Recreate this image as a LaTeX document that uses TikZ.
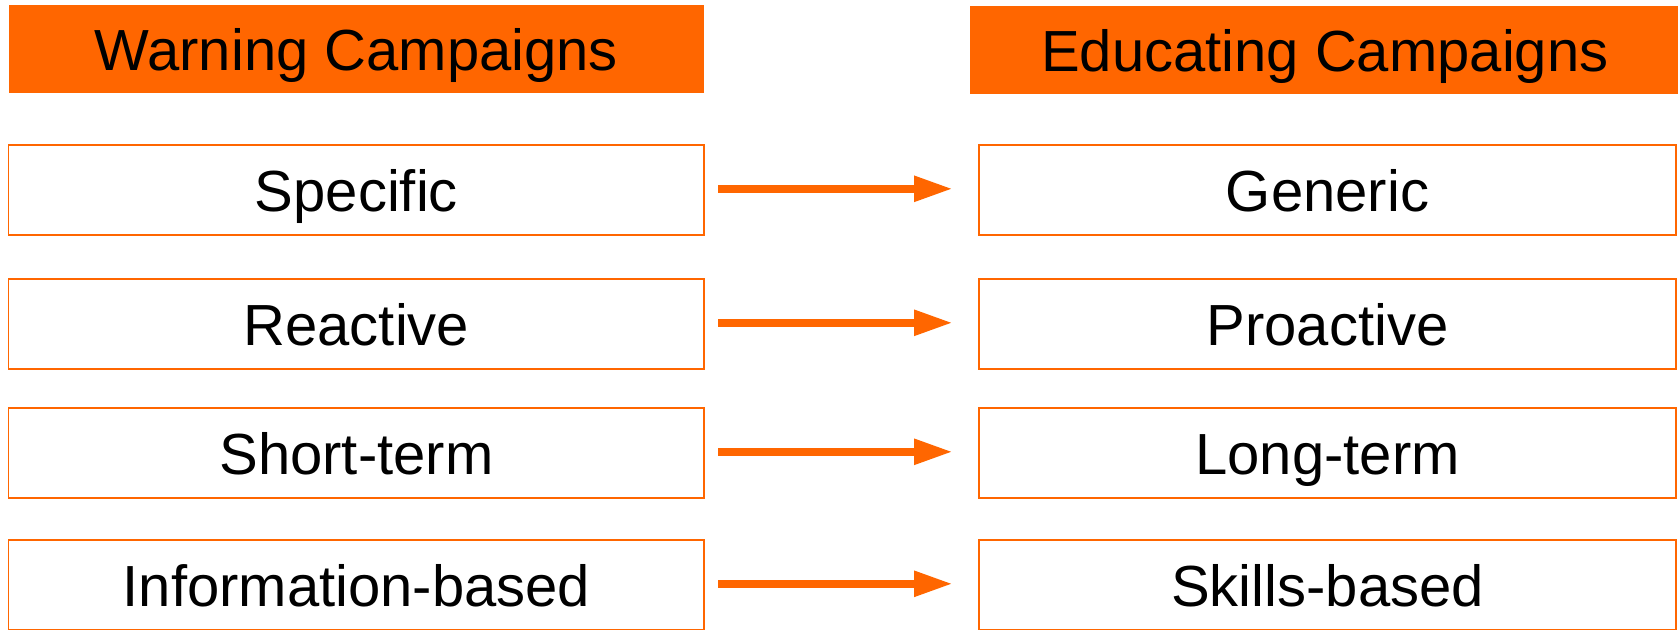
\documentclass[tikz,border=0pt]{standalone}
\usepackage{fontspec}
\setmainfont{Liberation Sans}
\usetikzlibrary{arrows.meta}
\definecolor{campaignorange}{HTML}{FF6600}
\begin{document}
\begin{tikzpicture}[x=1pt,y=-1pt,
  every node/.style={font=\fontsize{58}{60}\selectfont, text=black,
    inner sep=0pt, outer sep=0pt, text height=42pt, text depth=0pt},
  header/.style={fill=campaignorange},
  itembox/.style={draw=campaignorange, line width=1.6pt, fill=white},
  shiftarrow/.style={draw=campaignorange, line width=8.3pt,
    -{Triangle[length=39pt,width=24pt]}}]
  \useasboundingbox (0,0) rectangle (1678,629);

  % column headers
  \node[header, minimum width=695.6pt, minimum height=87.6pt] (wh) at (356.4,49.2) {Warning Campaigns};
  \node[header, minimum width=710pt, minimum height=87.6pt] (eh) at (1324.8,50.2) {Educating Campaigns};

  % left column: warning campaigns
  \node[itembox, minimum width=695.6pt, minimum height=89.5pt] (l1) at (356.4,190) {Specific};
  \node[itembox, minimum width=695.6pt, minimum height=89.5pt] (l2) at (356.4,324) {Reactive};
  \node[itembox, minimum width=695.6pt, minimum height=89.5pt] (l3) at (356.4,453) {Short-term};
  \node[itembox, minimum width=695.6pt, minimum height=89.5pt] (l4) at (356.4,585) {Information-based};

  % right column: educating campaigns
  \node[itembox, minimum width=697pt, minimum height=89.5pt] (r1) at (1327.5,190) {Generic};
  \node[itembox, minimum width=697pt, minimum height=89.5pt] (r2) at (1327.5,324) {Proactive};
  \node[itembox, minimum width=697pt, minimum height=89.5pt] (r3) at (1327.5,453) {Long-term};
  \node[itembox, minimum width=697pt, minimum height=89.5pt] (r4) at (1327.5,585) {Skills-based};

  % shift arrows
  \foreach \i in {1,2,3,4}{
    \draw[shiftarrow] ([xshift=14pt,yshift=1.2pt]l\i.east) -- ([xshift=-26pt,yshift=1.2pt]r\i.west);
  }
\end{tikzpicture}
\end{document}
